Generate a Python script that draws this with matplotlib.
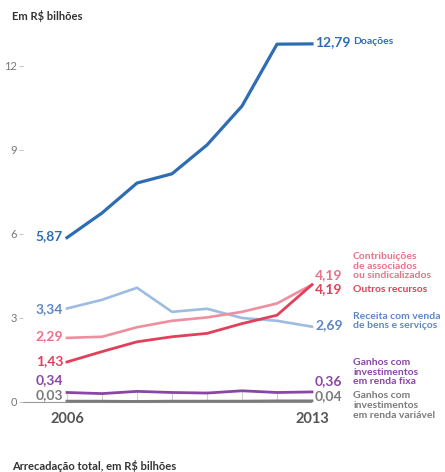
import matplotlib
matplotlib.use("Agg")
import matplotlib.pyplot as plt

years = [2006, 2007, 2008, 2009, 2010, 2011, 2012, 2013]
doacoes = [5.87, 6.75, 7.82, 8.15, 9.18, 10.57, 12.78, 12.79]
receita = [3.34, 3.65, 4.08, 3.22, 3.33, 3.0, 2.9, 2.69]
contribuicoes = [2.29, 2.33, 2.67, 2.9, 3.02, 3.22, 3.52, 4.19]
outros = [1.43, 1.8, 2.15, 2.33, 2.45, 2.8, 3.1, 4.19]
renda_fixa = [0.34, 0.3, 0.38, 0.34, 0.32, 0.4, 0.34, 0.36]
renda_variavel = [0.03, 0.03, 0.02, 0.03, 0.03, 0.03, 0.04, 0.04]

yticks = [0, 3, 6, 9, 12]
xticklabels = ["2006", "2013"]

names = ["Doações",
         "Contribuições\nde associados\nou sindicalizados",
         "Outros recursos",
         "Receita com venda\nde bens e serviços",
         "Ganhos com\ninvestimentos\nem renda fixa",
         "Ganhos com\ninvestimentos\nem renda variável"]

plt.rcParams['font.family'] = ['Lato', 'DejaVu Sans']

W, H = 445, 472
fig = plt.figure(figsize=(W / 100, H / 100), dpi=100)

# pixel geometry
x_left_px, x2006_px, x2013_px = 23, 67, 312
y0_px, ppu = 402, 28.0
ybot, ytop = -0.3, 13.5
px_per_year = (x2013_px - x2006_px) / 7
xlim_left = 2006 - (x2006_px - x_left_px) / px_per_year
ax_bottom_px = y0_px - ybot * ppu
ax_top_px = y0_px - ytop * ppu
ax = fig.add_axes([x_left_px / W, (H - ax_bottom_px) / H,
                   (x2013_px - x_left_px) / W, (ax_bottom_px - ax_top_px) / H])
ax.set_xlim(xlim_left, 2013)
ax.set_ylim(ybot, ytop)
for s in ax.spines.values():
    s.set_visible(False)


def ypx(p):
    return (y0_px - p) / ppu


c_doa = "#2e6db4"
c_rec = "#9dbcdf"
c_rec_t = "#5f86c4"
c_con = "#ef8e9e"
c_con_t = "#e8738a"
c_out = "#e23f5a"
c_fix = "#8a46a6"
c_var = "#7b7b7b"

# baseline and small year ticks
ax.axhline(0, color="#9a9a9a", lw=0.8, zorder=1)
ax.vlines(years, 0, 0.4, color="#cfcfcf", lw=0.8, zorder=1)

ax.plot(years, renda_variavel, color=c_var, lw=2.0, clip_on=False, zorder=3)
ax.plot(years, renda_fixa, color=c_fix, lw=2.0, clip_on=False, zorder=3)
ax.plot(years, receita, color=c_rec, lw=1.9, clip_on=False, zorder=3)
ax.plot(years, contribuicoes, color=c_con, lw=1.9, clip_on=False, zorder=3)
ax.plot(years, outros, color=c_out, lw=2.0, clip_on=False, zorder=4)
ax.plot(years, doacoes, color=c_doa, lw=2.3, clip_on=False, zorder=5)

ax.set_yticks(yticks)
ax.set_yticklabels([str(v) for v in yticks])
ax.tick_params(axis='y', length=3, width=0.6, color="#bbbbbb", pad=1.5,
               labelsize=8, labelcolor="#777777")
ax.set_xticks([years[0], years[-1]])
ax.set_xticklabels(xticklabels)
ax.tick_params(axis='x', length=0, pad=1.5, labelsize=10.5, labelcolor="#555555")
for lbl in ax.get_xticklabels():
    lbl.set_fontweight('bold')


def fmt(v):
    return f"{v:.2f}".replace(".", ",")


num_fs = 10
# left labels (x in data, y in pixels)
left = [(doacoes[0], 236, c_doa), (receita[0], 309, c_rec_t),
        (contribuicoes[0], 336, c_con_t), (outros[0], 361, c_out),
        (renda_fixa[0], 380, c_fix), (renda_variavel[0], 395, c_var)]
for v, p, c in left:
    ax.text(2006 - 4 / px_per_year, ypx(p), fmt(v), color=c, fontsize=num_fs,
            fontweight='bold', ha='right', va='center')

# right labels
xr = 2013 + 3 / px_per_year
xn = 2013 + 41 / px_per_year
right = [(doacoes[-1], 42, c_doa), (contribuicoes[-1], 275, c_con_t),
         (outros[-1], 289, c_out), (receita[-1], 325, c_rec_t),
         (renda_fixa[-1], 381, c_fix), (renda_variavel[-1], 396, c_var)]
for v, p, c in right:
    ax.text(xr, ypx(p), fmt(v), color=c, fontsize=num_fs, fontweight='bold',
            ha='left', va='center', clip_on=False)

name_fs = 7.5
name_specs = [(names[0], 42, 'center', c_doa),
              (names[1], 275, 'bottom', c_con_t),
              (names[2], 289, 'center', c_out),
              (names[3], 325, 'bottom', c_rec_t),
              (names[4], 381, 'bottom', c_fix),
              (names[5], 397, 'top', c_var)]
for t, p, va, c in name_specs:
    yy = ypx(p)
    if va == 'bottom':
        yy = ypx(p + 5.5)
    elif va == 'top':
        yy = ypx(p - 5.5)
    ax.text(xn, yy, t, color=c, fontsize=name_fs, fontweight='bold',
            ha='left', va=va, linespacing=1.1, clip_on=False)

fig.text(12 / W, 1 - 16 / H, "Em R$ bilhões", fontsize=8, fontweight='bold',
         color="#333333", ha='left', va='center')
fig.text(12 / W, 1 - 466 / H, "Arrecadação total, em R$ bilhões", fontsize=8,
         fontweight='bold', color="#333333", ha='left', va='center')

fig.savefig("out.png", dpi=100, facecolor="white")
